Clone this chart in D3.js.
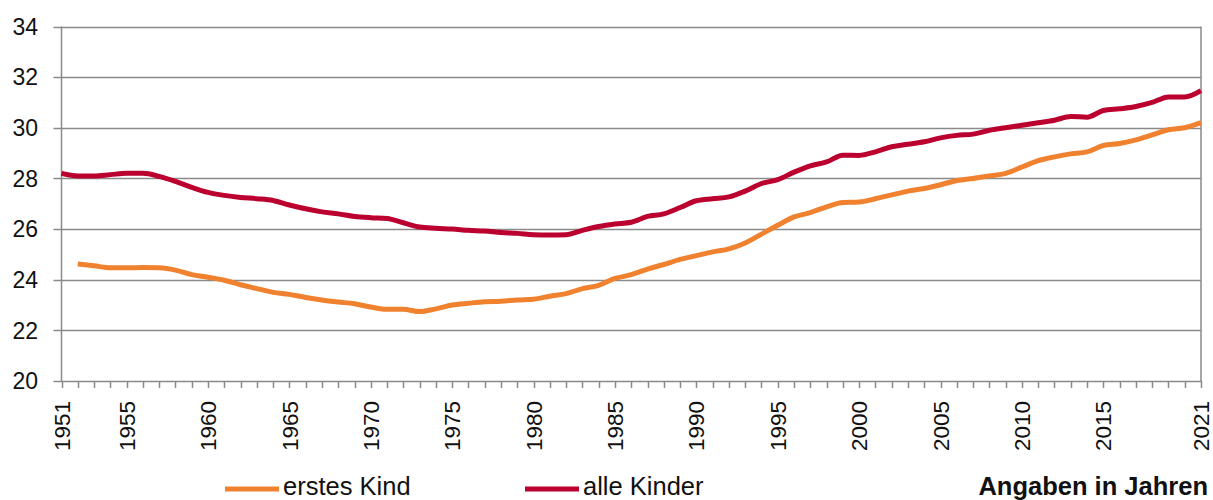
<!DOCTYPE html>
<html>
<head>
<meta charset="utf-8">
<script src="https://cdn.jsdelivr.net/npm/d3@7"></script>
<style>
  body { margin: 0; background: #fff; }
  svg { display: block; font-family: Arial, "Liberation Sans", sans-serif; }
</style>
</head>
<body>
<svg width="1213" height="500"></svg>
<script>
const years = d3.range(1951, 2022);

const ersteKind = [null,
  24.62, 24.55, 24.47, 24.47, 24.48, 24.47, 24.38, 24.2, 24.1,
  23.98, 23.8, 23.65, 23.5, 23.42, 23.3, 23.2, 23.12, 23.05, 22.92,
  22.83, 22.83, 22.74, 22.85, 23.0, 23.07, 23.13, 23.15, 23.2, 23.23,
  23.35, 23.45, 23.65, 23.78, 24.05, 24.2, 24.42, 24.6, 24.8, 24.95,
  25.1, 25.22, 25.45, 25.8, 26.15, 26.48, 26.65, 26.88, 27.05, 27.07,
  27.2, 27.35, 27.5, 27.6, 27.75, 27.92, 28.0, 28.1, 28.2, 28.45,
  28.7, 28.85, 28.97, 29.05, 29.3, 29.38, 29.52, 29.72, 29.92, 30.0,
  30.2];

const alleKinder = [28.2,
  28.1, 28.1, 28.15, 28.2, 28.2, 28.08, 27.88, 27.65, 27.45,
  27.33, 27.25, 27.2, 27.13, 26.95, 26.8, 26.68, 26.6, 26.5, 26.45,
  26.42, 26.25, 26.08, 26.03, 26.0, 25.95, 25.92, 25.86, 25.83, 25.78,
  25.77, 25.78, 25.95, 26.1, 26.2, 26.27, 26.5, 26.6, 26.85, 27.12,
  27.2, 27.27, 27.5, 27.8, 27.95, 28.25, 28.5, 28.65, 28.92, 28.91,
  29.05, 29.25, 29.35, 29.45, 29.6, 29.7, 29.75, 29.9, 30.0, 30.1,
  30.2, 30.3, 30.45, 30.42, 30.68, 30.75, 30.84, 31.0, 31.22, 31.22,
  31.47];

const yTicks = [20, 22, 24, 26, 28, 30, 32, 34];
const xLabels = [1951, 1955, 1960, 1965, 1970, 1975, 1980, 1985, 1990, 1995, 2000, 2005, 2010, 2015, 2021];

const seriesNames = ['erstes Kind', 'alle Kinder'];
const seriesColors = ['#f0822f', '#bb0030'];

const svg = d3.select('svg');
const plotLeft = 61.5, plotRight = 1201, plotTop = 26.5, plotBottom = 381;

const x = d3.scaleLinear().domain([1951, 2021]).range([plotLeft, plotRight]);
const y = d3.scaleLinear().domain([20, 34]).range([plotBottom, plotTop]);

const grid = '#8a8a8a';

// gridlines
svg.append('g')
  .selectAll('line')
  .data(yTicks)
  .enter()
  .append('line')
  .attr('x1', plotLeft - 8)
  .attr('x2', plotRight)
  .attr('y1', (d) => Math.round(y(d)) + 0.5)
  .attr('y2', (d) => Math.round(y(d)) + 0.5)
  .attr('stroke', grid)
  .attr('stroke-width', 1.5);

// y axis and right border
svg.append('line')
  .attr('x1', plotLeft).attr('x2', plotLeft)
  .attr('y1', plotTop).attr('y2', plotBottom)
  .attr('stroke', grid).attr('stroke-width', 1.5);
svg.append('line')
  .attr('x1', plotRight).attr('x2', plotRight)
  .attr('y1', plotTop).attr('y2', plotBottom)
  .attr('stroke', grid).attr('stroke-width', 1.5);

// y labels
svg.append('g')
  .selectAll('text')
  .data(yTicks)
  .enter()
  .append('text')
  .attr('x', 38)
  .attr('y', (d) => y(d))
  .attr('dy', '0.36em')
  .attr('text-anchor', 'end')
  .attr('font-size', 23)
  .attr('fill', '#111')
  .text((d) => d);

// x ticks every year
svg.append('g')
  .selectAll('line')
  .data(years)
  .enter()
  .append('line')
  .attr('x1', (d) => Math.round(x(d)) + 0.5)
  .attr('x2', (d) => Math.round(x(d)) + 0.5)
  .attr('y1', plotBottom)
  .attr('y2', plotBottom + 7)
  .attr('stroke', grid)
  .attr('stroke-width', 1.5);

// x labels
svg.append('g')
  .selectAll('text')
  .data(xLabels)
  .enter()
  .append('text')
  .attr('transform', (d) => `translate(${x(d)},${plotBottom + 20}) rotate(-90)`)
  .attr('dy', '0.36em')
  .attr('text-anchor', 'end')
  .attr('font-size', 22.5)
  .attr('fill', '#111')
  .text((d) => d);

// lines
const line = d3.line()
  .defined((d) => d.v != null)
  .x((d) => x(d.year))
  .y((d) => y(d.v))
  .curve(d3.curveMonotoneX);

[ersteKind, alleKinder].forEach((vals, i) => {
  svg.append('path')
    .datum(years.map((yr, j) => ({ year: yr, v: vals[j] })))
    .attr('fill', 'none')
    .attr('stroke', seriesColors[i])
    .attr('stroke-width', 5)
    .attr('stroke-linejoin', 'round')
    .attr('d', line);
});

// legend
const legendX = [225, 525];
seriesNames.forEach((name, i) => {
  const g = svg.append('g').attr('transform', `translate(${legendX[i]},489)`);
  g.append('line')
    .attr('x1', 0).attr('x2', 54)
    .attr('stroke', seriesColors[i])
    .attr('stroke-width', 5);
  g.append('text')
    .attr('x', 58)
    .attr('y', 6)
    .attr('font-size', 25.5)
    .attr('fill', '#111')
    .text(name);
});

svg.append('text')
  .attr('x', 1208)
  .attr('y', 495)
  .attr('text-anchor', 'end')
  .attr('font-size', 25.5)
  .attr('font-weight', 'bold')
  .attr('fill', '#111')
  .text('Angaben in Jahren');
</script>
</body>
</html>
